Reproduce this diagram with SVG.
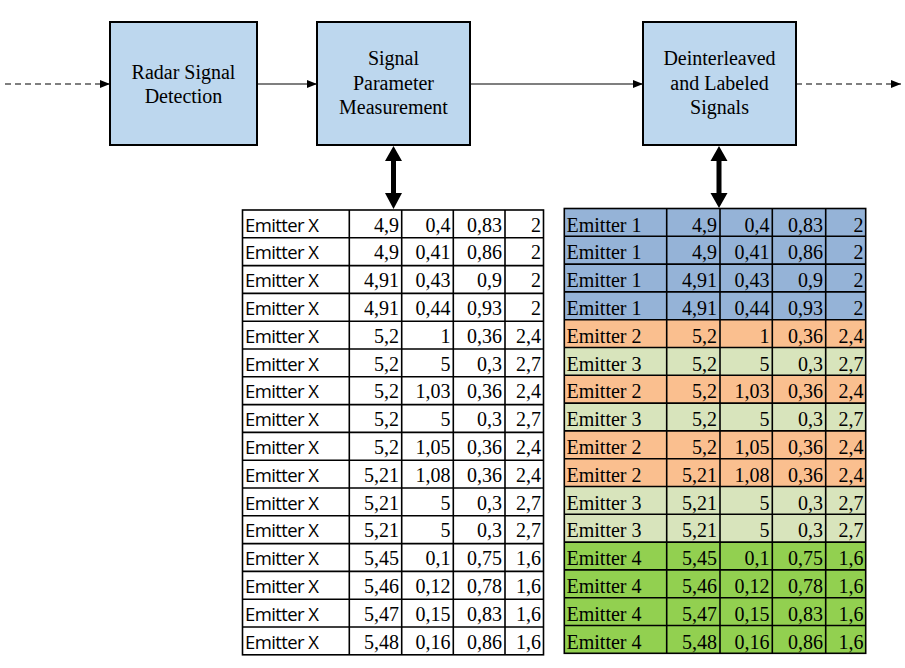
<svg xmlns="http://www.w3.org/2000/svg" width="905" height="668" viewBox="0 0 905 668">
<defs>
<marker id="ah" markerWidth="10" markerHeight="8" refX="10" refY="4" orient="auto" markerUnits="userSpaceOnUse"><path d="M0,0 L10,4 L0,8 Z" fill="#000"/></marker>
<style>
.box{fill:#BDD7EE;stroke:#000;stroke-width:2}
.bt{font-size:20px;text-anchor:middle;fill:#000}
.ln{stroke:#000;stroke-width:1.2;fill:none}
.dash{stroke-dasharray:6 4}
.grid{stroke:#000;stroke-width:1.6;fill:none}
.lab{font-size:18.5px;fill:#000}
.labs{font-size:20px;fill:#000}
.num{font-size:20px;text-anchor:end;fill:#000}
.c1{fill:#95B3D7}.c2{fill:#FABF8F}.c3{fill:#D8E4BC}.c4{fill:#92D050}
</style>
</defs>
<rect width="905" height="668" fill="#fff"/>
<g id="connectors">
<line class="ln dash" x1="5" y1="84" x2="110" y2="84" marker-end="url(#ah)"/>
<line class="ln" x1="257" y1="84" x2="317" y2="84" marker-end="url(#ah)"/>
<line class="ln" x1="470" y1="84" x2="643" y2="84" marker-end="url(#ah)"/>
<line class="ln dash" x1="796" y1="84" x2="901" y2="84" marker-end="url(#ah)"/>
<path d="M393.5,146 L402,161 L396,161 L396,193 L402,193 L393.5,209 L385,193 L391,193 L391,161 L385,161 Z" fill="#000"/>
<path d="M719,146 L727.5,161 L721.5,161 L721.5,193 L727.5,193 L719,208 L710.5,193 L716.5,193 L716.5,161 L710.5,161 Z" fill="#000"/>
</g>
<g font-family="Liberation Serif, DejaVu Serif, Noto Serif, Times New Roman, serif">
<g id="node-detection">
<rect class="box" x="110" y="22" width="147" height="123"/>
<text class="bt" x="183.5" y="78.5">Radar Signal</text>
<text class="bt" x="183.5" y="102.5">Detection</text>
</g>
<g id="node-measurement">
<rect class="box" x="317" y="22" width="153" height="123"/>
<text class="bt" x="393.5" y="65">Signal</text>
<text class="bt" x="393.5" y="90">Parameter</text>
<text class="bt" x="393.5" y="114">Measurement</text>
</g>
<g id="node-deinterleaved">
<rect class="box" x="643" y="22" width="153" height="123"/>
<text class="bt" x="719.5" y="65">Deinterleaved</text>
<text class="bt" x="719.5" y="90">and Labeled</text>
<text class="bt" x="719.5" y="114">Signals</text>
</g>
</g>
<g id="table-raw">
<g class="grid">
<rect x="242.5" y="210" width="301" height="444.8"/>
<line x1="349.3" y1="210" x2="349.3" y2="654.8"/>
<line x1="401.7" y1="210" x2="401.7" y2="654.8"/>
<line x1="453.3" y1="210" x2="453.3" y2="654.8"/>
<line x1="505" y1="210" x2="505" y2="654.8"/>
<path d="M242.5,237.8H543.5M242.5,265.6H543.5M242.5,293.4H543.5M242.5,321.2H543.5M242.5,349H543.5M242.5,376.8H543.5M242.5,404.6H543.5M242.5,432.4H543.5M242.5,460.2H543.5M242.5,488H543.5M242.5,515.8H543.5M242.5,543.6H543.5M242.5,571.4H543.5M242.5,599.2H543.5M242.5,627H543.5"/>
</g>
<g class="lab" font-family="Open Sans, Noto Sans, Liberation Sans, sans-serif" letter-spacing="-0.6">
<text x="245" y="231.5">Emitter X</text><text x="245" y="259.3">Emitter X</text><text x="245" y="287.1">Emitter X</text><text x="245" y="314.9">Emitter X</text>
<text x="245" y="342.7">Emitter X</text><text x="245" y="370.5">Emitter X</text><text x="245" y="398.3">Emitter X</text><text x="245" y="426.1">Emitter X</text>
<text x="245" y="453.9">Emitter X</text><text x="245" y="481.7">Emitter X</text><text x="245" y="509.5">Emitter X</text><text x="245" y="537.3">Emitter X</text>
<text x="245" y="565.1">Emitter X</text><text x="245" y="592.9">Emitter X</text><text x="245" y="620.7">Emitter X</text><text x="245" y="648.5">Emitter X</text>
</g>
<g class="num" font-family="Liberation Serif, DejaVu Serif, Noto Serif, Times New Roman, serif">
<text x="399" y="231.5">4,9</text><text x="450.5" y="231.5">0,4</text><text x="502" y="231.5">0,83</text><text x="541" y="231.5">2</text>
<text x="399" y="259.3">4,9</text><text x="450.5" y="259.3">0,41</text><text x="502" y="259.3">0,86</text><text x="541" y="259.3">2</text>
<text x="399" y="287.1">4,91</text><text x="450.5" y="287.1">0,43</text><text x="502" y="287.1">0,9</text><text x="541" y="287.1">2</text>
<text x="399" y="314.9">4,91</text><text x="450.5" y="314.9">0,44</text><text x="502" y="314.9">0,93</text><text x="541" y="314.9">2</text>
<text x="399" y="342.7">5,2</text><text x="450.5" y="342.7">1</text><text x="502" y="342.7">0,36</text><text x="541" y="342.7">2,4</text>
<text x="399" y="370.5">5,2</text><text x="450.5" y="370.5">5</text><text x="502" y="370.5">0,3</text><text x="541" y="370.5">2,7</text>
<text x="399" y="398.3">5,2</text><text x="450.5" y="398.3">1,03</text><text x="502" y="398.3">0,36</text><text x="541" y="398.3">2,4</text>
<text x="399" y="426.1">5,2</text><text x="450.5" y="426.1">5</text><text x="502" y="426.1">0,3</text><text x="541" y="426.1">2,7</text>
<text x="399" y="453.9">5,2</text><text x="450.5" y="453.9">1,05</text><text x="502" y="453.9">0,36</text><text x="541" y="453.9">2,4</text>
<text x="399" y="481.7">5,21</text><text x="450.5" y="481.7">1,08</text><text x="502" y="481.7">0,36</text><text x="541" y="481.7">2,4</text>
<text x="399" y="509.5">5,21</text><text x="450.5" y="509.5">5</text><text x="502" y="509.5">0,3</text><text x="541" y="509.5">2,7</text>
<text x="399" y="537.3">5,21</text><text x="450.5" y="537.3">5</text><text x="502" y="537.3">0,3</text><text x="541" y="537.3">2,7</text>
<text x="399" y="565.1">5,45</text><text x="450.5" y="565.1">0,1</text><text x="502" y="565.1">0,75</text><text x="541" y="565.1">1,6</text>
<text x="399" y="592.9">5,46</text><text x="450.5" y="592.9">0,12</text><text x="502" y="592.9">0,78</text><text x="541" y="592.9">1,6</text>
<text x="399" y="620.7">5,47</text><text x="450.5" y="620.7">0,15</text><text x="502" y="620.7">0,83</text><text x="541" y="620.7">1,6</text>
<text x="399" y="648.5">5,48</text><text x="450.5" y="648.5">0,16</text><text x="502" y="648.5">0,86</text><text x="541" y="648.5">1,6</text>
</g>
</g>
<g id="table-labeled">
<g>
<rect class="c1" x="564.3" y="208.5" width="301.4" height="111.2"/>
<rect class="c2" x="564.3" y="319.7" width="301.4" height="27.8"/>
<rect class="c3" x="564.3" y="347.5" width="301.4" height="27.8"/>
<rect class="c2" x="564.3" y="375.3" width="301.4" height="27.8"/>
<rect class="c3" x="564.3" y="403.1" width="301.4" height="27.8"/>
<rect class="c2" x="564.3" y="430.9" width="301.4" height="55.6"/>
<rect class="c3" x="564.3" y="486.5" width="301.4" height="55.6"/>
<rect class="c4" x="564.3" y="542.1" width="301.4" height="111.2"/>
</g>
<g class="grid">
<rect x="564.3" y="208.5" width="301.4" height="444.8"/>
<line x1="666.7" y1="208.5" x2="666.7" y2="653.3"/>
<line x1="720" y1="208.5" x2="720" y2="653.3"/>
<line x1="772.3" y1="208.5" x2="772.3" y2="653.3"/>
<line x1="825.7" y1="208.5" x2="825.7" y2="653.3"/>
<path d="M564.3,236.3H865.7M564.3,264.1H865.7M564.3,291.9H865.7M564.3,319.7H865.7M564.3,347.5H865.7M564.3,375.3H865.7M564.3,403.1H865.7M564.3,430.9H865.7M564.3,458.7H865.7M564.3,486.5H865.7M564.3,514.3H865.7M564.3,542.1H865.7M564.3,569.9H865.7M564.3,597.7H865.7M564.3,625.5H865.7"/>
</g>
<g font-family="Liberation Serif, DejaVu Serif, Noto Serif, Times New Roman, serif">
<g class="labs">
<text x="566.5" y="231.5">Emitter 1</text><text x="566.5" y="259.3">Emitter 1</text><text x="566.5" y="287.1">Emitter 1</text><text x="566.5" y="314.9">Emitter 1</text>
<text x="566.5" y="342.7">Emitter 2</text><text x="566.5" y="370.5">Emitter 3</text><text x="566.5" y="398.3">Emitter 2</text><text x="566.5" y="426.1">Emitter 3</text>
<text x="566.5" y="453.9">Emitter 2</text><text x="566.5" y="481.7">Emitter 2</text><text x="566.5" y="509.5">Emitter 3</text><text x="566.5" y="537.3">Emitter 3</text>
<text x="566.5" y="565.1">Emitter 4</text><text x="566.5" y="592.9">Emitter 4</text><text x="566.5" y="620.7">Emitter 4</text><text x="566.5" y="648.5">Emitter 4</text>
</g>
<g class="num">
<text x="717" y="231.5">4,9</text><text x="769.5" y="231.5">0,4</text><text x="823" y="231.5">0,83</text><text x="863.5" y="231.5">2</text>
<text x="717" y="259.3">4,9</text><text x="769.5" y="259.3">0,41</text><text x="823" y="259.3">0,86</text><text x="863.5" y="259.3">2</text>
<text x="717" y="287.1">4,91</text><text x="769.5" y="287.1">0,43</text><text x="823" y="287.1">0,9</text><text x="863.5" y="287.1">2</text>
<text x="717" y="314.9">4,91</text><text x="769.5" y="314.9">0,44</text><text x="823" y="314.9">0,93</text><text x="863.5" y="314.9">2</text>
<text x="717" y="342.7">5,2</text><text x="769.5" y="342.7">1</text><text x="823" y="342.7">0,36</text><text x="863.5" y="342.7">2,4</text>
<text x="717" y="370.5">5,2</text><text x="769.5" y="370.5">5</text><text x="823" y="370.5">0,3</text><text x="863.5" y="370.5">2,7</text>
<text x="717" y="398.3">5,2</text><text x="769.5" y="398.3">1,03</text><text x="823" y="398.3">0,36</text><text x="863.5" y="398.3">2,4</text>
<text x="717" y="426.1">5,2</text><text x="769.5" y="426.1">5</text><text x="823" y="426.1">0,3</text><text x="863.5" y="426.1">2,7</text>
<text x="717" y="453.9">5,2</text><text x="769.5" y="453.9">1,05</text><text x="823" y="453.9">0,36</text><text x="863.5" y="453.9">2,4</text>
<text x="717" y="481.7">5,21</text><text x="769.5" y="481.7">1,08</text><text x="823" y="481.7">0,36</text><text x="863.5" y="481.7">2,4</text>
<text x="717" y="509.5">5,21</text><text x="769.5" y="509.5">5</text><text x="823" y="509.5">0,3</text><text x="863.5" y="509.5">2,7</text>
<text x="717" y="537.3">5,21</text><text x="769.5" y="537.3">5</text><text x="823" y="537.3">0,3</text><text x="863.5" y="537.3">2,7</text>
<text x="717" y="565.1">5,45</text><text x="769.5" y="565.1">0,1</text><text x="823" y="565.1">0,75</text><text x="863.5" y="565.1">1,6</text>
<text x="717" y="592.9">5,46</text><text x="769.5" y="592.9">0,12</text><text x="823" y="592.9">0,78</text><text x="863.5" y="592.9">1,6</text>
<text x="717" y="620.7">5,47</text><text x="769.5" y="620.7">0,15</text><text x="823" y="620.7">0,83</text><text x="863.5" y="620.7">1,6</text>
<text x="717" y="648.5">5,48</text><text x="769.5" y="648.5">0,16</text><text x="823" y="648.5">0,86</text><text x="863.5" y="648.5">1,6</text>
</g>
</g>
</g>
</svg>
